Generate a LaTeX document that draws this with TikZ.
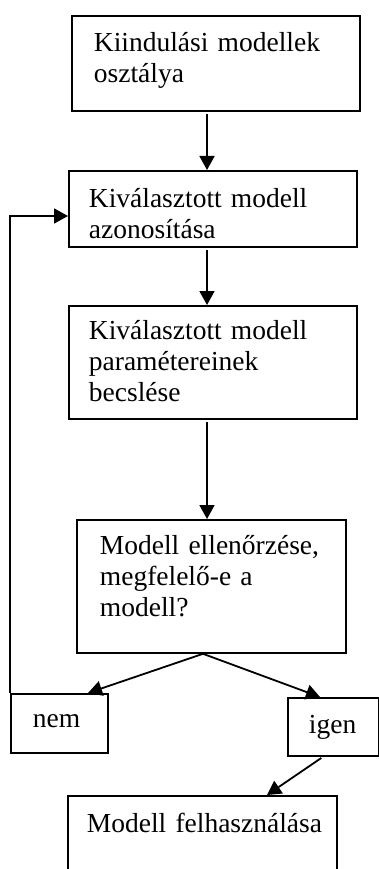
\documentclass[tikz,border=0pt]{standalone}
\usepackage{fontspec}
\setmainfont{Liberation Serif}
\usetikzlibrary{arrows.meta}

\begin{document}
\begin{tikzpicture}[x=1pt, y=-1pt, % y nach unten
    font=\fontsize{27.5}{31}\selectfont,
    box/.style={draw, line width=1.8pt, anchor=north west, align=left, inner ysep=0pt},
    arr/.style={-{Triangle[length=14pt,width=15pt]}, line width=1.8pt}]
    \clip (0,0) rectangle (379,869);
    % Kaesten
    \node[box, text width=244pt, inner xsep=22pt, text height=36pt, text depth=59pt] (start) at (71,15) {Kiindulási modellek\\ osztálya};
    \node[box, text width=248pt, inner xsep=20pt, text height=37pt, text depth=39pt] (azon) at (68,170) {Kiválasztott modell\\ azonosítása};
    \node[box, text width=248pt, inner xsep=20pt, text height=34pt, text depth=79pt] (becs) at (68,305) {Kiválasztott modell\\ paramétereinek\\ becslése};
    \node[box, text width=223pt, inner xsep=23pt, text height=35pt, text depth=98pt] (ell) at (76,519) {Modell ellenőrzése,\\ megfelelő-e a\\ modell?};
    \node[box, text width=53pt, inner xsep=22pt, text height=34pt, text depth=25pt] (nem) at (10,693) {nem};
    \node[box, text width=49pt, inner xsep=21pt, text height=36pt, text depth=22pt] (igen) at (287,697) {igen};
    \node[box, text width=231pt, inner xsep=19pt, text height=37pt, text depth=100pt] (felh) at (67,795) {\mbox{Modell felhasználása}};
    % Pfeile
    \coordinate (axis) at (207,0);
    \draw[arr, shorten <=2pt] (start.south -| axis) -- (azon.north -| axis);
    \draw[arr, shorten <=2pt] (azon.south -| axis) -- (becs.north -| axis);
    \draw[arr, shorten <=2pt] (becs.south -| axis) -- (ell.north -| axis);
    \draw[arr] (ell.south -| 203,0) -- (nem.north -| 88,0);
    \draw[arr] (ell.south -| 203,0) -- (igen.north -| 320,0);
    \draw[arr, shorten <=2pt] (igen.south -| 323,0) -- (felh.north -| 267,0);
    % Rueckkopplung
    \draw[arr] (nem.north west) |- (azon.west |- 0,216);
\end{tikzpicture}
\end{document}
